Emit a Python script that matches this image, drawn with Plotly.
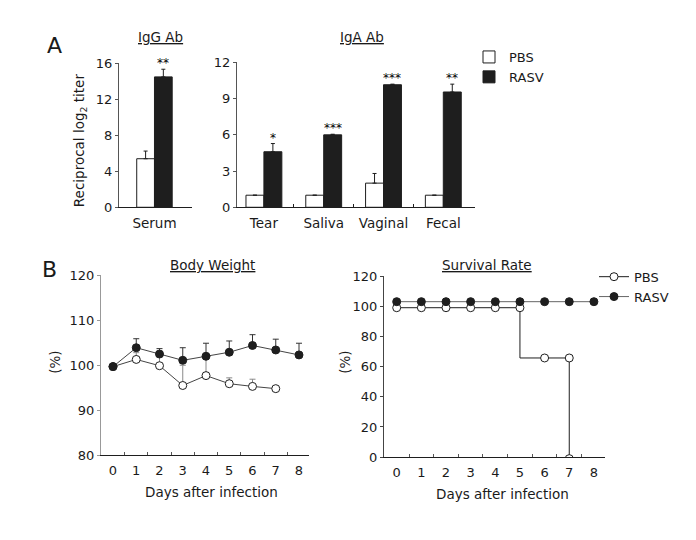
import plotly.graph_objects as go

W, H = 696, 540

# ---------------- data ----------------
# Panel A
igg_categories = ["Serum"]
igg_pbs = [5.4]
igg_pbs_err = [0.85]
igg_rasv = [14.5]
igg_rasv_err = [0.85]
igg_stars = ["**"]

iga_categories = ["Tear", "Saliva", "Vaginal", "Fecal"]
iga_pbs = [1.0, 1.0, 2.0, 1.0]
iga_pbs_err = [0.0, 0.0, 0.8, 0.0]
iga_rasv = [4.6, 6.0, 10.15, 9.55]
iga_rasv_err = [0.68, 0.05, 0.05, 0.65]
iga_stars = ["*", "***", "***", "**"]

# Panel B - body weight (%)
bw_days_pbs = [0, 1, 2, 3, 4, 5, 6, 7]
bw_pbs = [99.7, 101.3, 99.9, 95.5, 97.7, 95.9, 95.3, 94.8]
bw_pbs_err = [0.0, 1.5, 2.0, 4.5, 3.8, 1.3, 1.6, 0.0]
bw_days_rasv = [0, 1, 2, 3, 4, 5, 6, 7, 8]
bw_rasv = [99.7, 103.9, 102.5, 101.1, 102.0, 102.9, 104.4, 103.4, 102.3]
bw_rasv_err = [0.0, 2.0, 1.2, 2.8, 2.9, 2.5, 2.4, 2.4, 2.6]

# Panel B - survival (%)
surv_days_pbs = [0, 1, 2, 3, 4, 5, 6, 7, 7]
surv_pbs = [100, 100, 100, 100, 100, 100, 66.7, 66.7, 0]
surv_days_rasv = [0, 1, 2, 3, 4, 5, 6, 7, 8]
surv_rasv = [100, 100, 100, 100, 100, 100, 100, 100, 100]
# small vertical display offsets used in the original so overlapping curves stay visible
SURV_OFFSET_PBS = -1.0
SURV_OFFSET_RASV = 3.0

day_ticks = [0, 1, 2, 3, 4, 5, 6, 7, 8]

# ---------------- styling ----------------
FONT = "DejaVu Sans"
TXT = "#1a1a1a"
BLACK = "#1e1e1e"
GRAY = "#8a8a8a"


def fx(p):
    return p / W


def fy(p):
    return 1 - p / H


fig = go.Figure()

# ---- Panel A bars ----
def add_bars(cats, pbs, pbs_err, rasv, rasv_err, xa, ya, show):
    xs = list(range(len(cats)))
    fig.add_trace(go.Bar(
        x=xs, y=pbs, name="PBS", xaxis=xa, yaxis=ya,
        marker=dict(color="white", line=dict(color=BLACK, width=1)),
        error_y=dict(type="data", array=pbs_err, arrayminus=[0] * len(pbs_err),
                     symmetric=False, color=BLACK, thickness=1, width=2),
        showlegend=show, legend="legend", legendgroup="pbsA",
    ))
    fig.add_trace(go.Bar(
        x=xs, y=rasv, name="RASV", xaxis=xa, yaxis=ya,
        marker=dict(color=BLACK, line=dict(color=BLACK, width=1)),
        error_y=dict(type="data", array=rasv_err, arrayminus=[0] * len(rasv_err),
                     symmetric=False, color=BLACK, thickness=1, width=2),
        showlegend=show, legend="legend", legendgroup="rasvA",
    ))


add_bars(igg_categories, igg_pbs, igg_pbs_err, igg_rasv, igg_rasv_err, "x", "y", False)
add_bars(iga_categories, iga_pbs, iga_pbs_err, iga_rasv, iga_rasv_err, "x2", "y2", True)

# significance stars
for cats, vals, errs, stars, xr, yr in [
    (igg_categories, igg_rasv, igg_rasv_err, igg_stars, "x", "y"),
    (iga_categories, iga_rasv, iga_rasv_err, iga_stars, "x2", "y2"),
]:
    for i, (v, e, s) in enumerate(zip(vals, errs, stars)):
        fig.add_annotation(x=i + 0.15, y=v + e, xref=xr, yref=yr, text=s,
                           showarrow=False, yanchor="bottom", yshift=-3,
                           font=dict(family=FONT, size=12, color="#000000"))

# ---- Panel B: body weight ----
fig.add_trace(go.Scatter(
    x=bw_days_pbs, y=bw_pbs, name="PBS", xaxis="x3", yaxis="y3", mode="lines+markers",
    line=dict(color="#444444", width=1),
    marker=dict(symbol="circle", size=8, color="white", line=dict(color=BLACK, width=1)),
    error_y=dict(type="data", array=bw_pbs_err, arrayminus=[0] * len(bw_pbs_err),
                 symmetric=False, color=GRAY, thickness=1, width=3),
    showlegend=False,
))
fig.add_trace(go.Scatter(
    x=bw_days_rasv, y=bw_rasv, name="RASV", xaxis="x3", yaxis="y3", mode="lines+markers",
    line=dict(color="#444444", width=1),
    marker=dict(symbol="circle", size=8, color=BLACK, line=dict(color=BLACK, width=1)),
    error_y=dict(type="data", array=bw_rasv_err, arrayminus=[0] * len(bw_rasv_err),
                 symmetric=False, color="#333333", thickness=1, width=3),
    showlegend=False,
))

# ---- Panel B: survival ----
fig.add_trace(go.Scatter(
    x=surv_days_pbs, y=[v + SURV_OFFSET_PBS for v in surv_pbs], name="PBS",
    xaxis="x4", yaxis="y4", mode="lines+markers", line_shape="vh",
    line=dict(color=BLACK, width=1),
    marker=dict(symbol="circle", size=8, color="white", line=dict(color=BLACK, width=1)),
    showlegend=True, legend="legend2",
))
fig.add_trace(go.Scatter(
    x=surv_days_rasv, y=[v + SURV_OFFSET_RASV for v in surv_rasv], name="RASV",
    xaxis="x4", yaxis="y4", mode="lines+markers",
    line=dict(color="#666666", width=1),
    marker=dict(symbol="circle", size=8, color=BLACK, line=dict(color=BLACK, width=1)),
    showlegend=True, legend="legend2",
))

# ---------------- axes ----------------
tickfont = dict(family=FONT, size=13, color=TXT)
catfont = dict(family=FONT, size=13.5, color=TXT)


def yax(domain, rng, dtick, linecolor):
    return dict(domain=domain, range=rng, dtick=dtick, tick0=0, showgrid=False, zeroline=False,
                showline=True, linecolor=linecolor, linewidth=1, ticks="outside", ticklen=3,
                tickcolor=linecolor, tickfont=tickfont, fixedrange=True)


def xax_cat(domain, rng, cats, anchor):
    n = len(cats)
    return dict(domain=domain, range=rng, anchor=anchor, showgrid=False, zeroline=False,
                showline=True, linecolor=BLACK, linewidth=1,
                tickvals=list(range(n)), ticktext=cats, ticks="", tickfont=catfont,
                ticklabelstandoff=4,
                minor=dict(ticks="inside", ticklen=3, tickcolor=BLACK,
                           tickvals=[i + 0.5 for i in range(n - 1)]),
                fixedrange=True)


def xax_days(domain, rng, anchor):
    return dict(domain=domain, range=rng, anchor=anchor, showgrid=False, zeroline=False,
                showline=True, linecolor=BLACK, linewidth=1,
                tickvals=day_ticks, ticktext=[str(d) for d in day_ticks], ticks="",
                tickfont=tickfont, ticklabelstandoff=3,
                minor=dict(ticks="inside", ticklen=3, tickcolor="#555555",
                           tickvals=[d + 0.5 for d in day_ticks[:-1]]),
                fixedrange=True)


fig.update_layout(
    width=W, height=H, margin=dict(l=0, r=0, t=0, b=0),
    paper_bgcolor="white", plot_bgcolor="white",
    font=dict(family=FONT, size=13, color=TXT),
    barmode="group", bargap=0.4, bargroupgap=0,
    xaxis=xax_cat([fx(119), fx(192)], [-0.6, 0.635], igg_categories, "y"),
    yaxis=yax([fy(206), fy(58)], [0, 16], 4, "#555555") | dict(anchor="x"),
    xaxis2=xax_cat([fx(237), fx(475)], [-0.45, 3.53], iga_categories, "y2"),
    yaxis2=yax([fy(206), fy(57)], [0, 12], 3, "#555555") | dict(anchor="x2"),
    xaxis3=xax_days([fx(101), fx(309)], [-0.516, 8.43], "y3"),
    yaxis3=yax([fy(461), fy(276)], [80, 120], 10, "#999999") | dict(anchor="x3"),
    xaxis4=xax_days([fx(384), fx(605)], [-0.515, 8.45], "y4"),
    yaxis4=yax([fy(463), fy(276.7)], [0, 120], 20, "#444444") | dict(anchor="x4"),
    legend=dict(x=fx(469), y=fy(36), xanchor="left", yanchor="top",
                font=dict(family=FONT, size=13, color=TXT), bgcolor="rgba(0,0,0,0)",
                itemwidth=30, tracegroupgap=0, traceorder="normal"),
    legend2=dict(x=fx(594), y=fy(262), xanchor="left", yanchor="top",
                 font=dict(family=FONT, size=13, color=TXT), bgcolor="rgba(0,0,0,0)",
                 itemwidth=30, tracegroupgap=0, traceorder="normal"),
)

# ---------------- texts ----------------
def note(x, y, text, size=13.5, angle=0):
    fig.add_annotation(x=fx(x), y=fy(y), xref="paper", yref="paper", text=text,
                       showarrow=False, xanchor="center", yanchor="middle",
                       textangle=angle, font=dict(family=FONT, size=size, color=TXT))


note(54, 40, "A", size=22)
note(49, 270, "B", size=22)
note(160, 31, "<u>IgG Ab</u>")
note(362, 31, "<u>IgA Ab</u>")
note(213, 265, "<u>Body Weight</u>")
note(487, 265, "<u>Survival Rate</u>")
note(80, 137, "Reciprocal log<sub>2</sub> titer", angle=-90)
note(55, 366, "(%)", angle=-90)
note(345, 366, "(%)", angle=-90)
note(211, 499, "Days after infection")
note(502, 501, "Days after infection")

# the page's default body margin would shift the fixed-size figure; remove it
fig.write_html("out.html", config={"displayModeBar": False},
               post_script="document.body.style.margin='0';")
